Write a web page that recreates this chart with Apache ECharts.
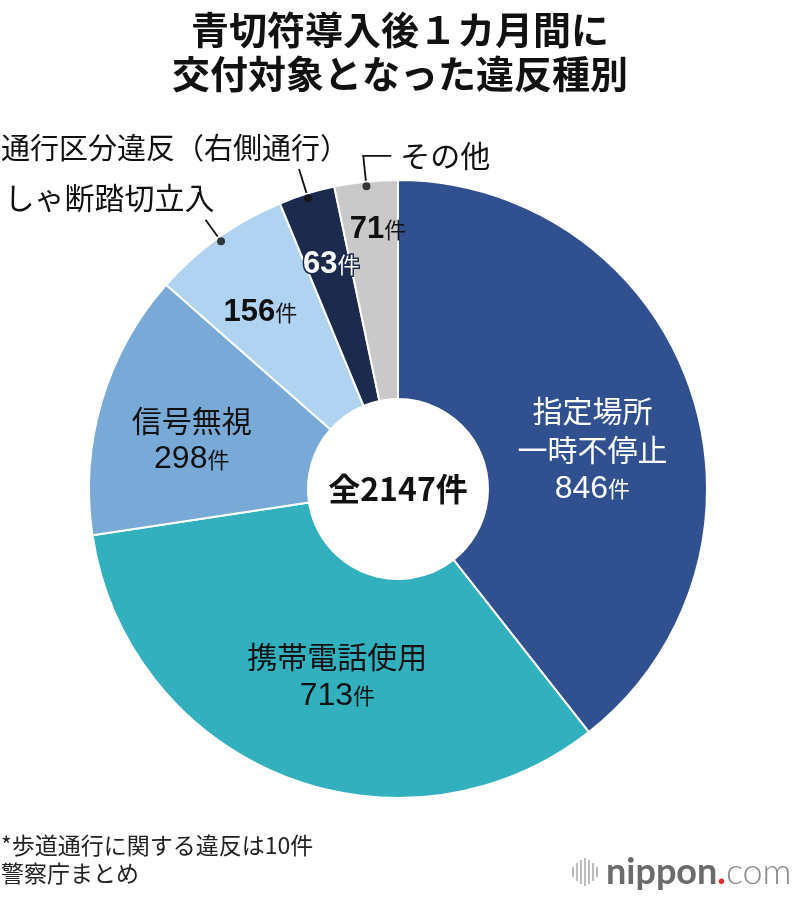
<!DOCTYPE html>
<html>
<head>
<meta charset="utf-8">
<script src="https://cdn.jsdelivr.net/npm/echarts@6/dist/echarts.min.js"></script>
<style>
  html, body { margin: 0; padding: 0; background: #fff; }
  #chart { width: 800px; height: 898px; }
</style>
</head>
<body>
<div id="chart"></div>
<script>
// data (clockwise from 12 o'clock)
const categories = ['指定場所\n一時不停止', '携帯電話使用', '信号無視', 'しゃ断踏切立入', '通行区分違反（右側通行）', 'その他'];
const counts = [846, 713, 298, 156, 63, 71];
const sliceColors = ['#30508f', '#33b0be', '#79a9d7', '#b1d3f2', '#1c2a4d', '#c9c9c9'];
const labelColors = ['#fff', '#111', '#111', '#111', '#fff', '#111'];

const total = counts.reduce((a, b) => a + b, 0);
const CX = 398, CY = 489, R_IN = 90, R_OUT = 309;
const JP = "'Noto Sans CJK JP', sans-serif";
const NUM = "'Liberation Sans', Arial, sans-serif";

// mid angle of each slice (value units, for polar) and radians
const midVal = [];
let acc = 0;
counts.forEach(v => { midVal.push(acc + v / 2); acc += v; });
const midRad = midVal.map(v => v / total * Math.PI * 2);

// nudges for the inside labels
const labelShift = [[3, 27], [14, -1], [-12, 8], [-20, -12], [-7, -31], [1, -58]];
// which slices get an outside name label, and its size
const outside = [false, false, false, true, true, true];
const outsideSize = [30, 30, 30, 30, 29, 30];

const chart = echarts.init(document.getElementById('chart'));

function insideLabel(p) {
  const i = p.dataIndex;
  const n = counts[i];
  if (i === 4) return '{nw|' + n + '}{uw|件}';
  if (outside[i]) return '{nb|' + n + '}{ub|件}';
  const lines = categories[i].split('\n').map(s => '{name|' + s + '}').join('\n');
  return lines + '\n{num|' + n + '}{unit|件}';
}

function outsideLayout(p) {
  const i = p.dataIndex;
  const a = midRad[i];
  const ux = Math.sin(a), uy = -Math.cos(a);
  const p0 = [CX + (R_OUT - 4) * ux, CY + (R_OUT - 4) * uy];
  if (i === 3) {
    const p1 = [p0[0] + 26 * ux, p0[1] + 26 * uy];
    return { x: p1[0] + 9, y: p1[1] - 22, align: 'right', verticalAlign: 'middle', labelLinePoints: [p0, p1, p1] };
  }
  if (i === 4) {
    const p1 = [p0[0] + 30 * ux, p0[1] + 30 * uy];
    return { x: p1[0] + 50, y: p1[1] - 21, align: 'right', verticalAlign: 'middle', labelLinePoints: [p0, p1, p1] };
  }
  const p1 = [p0[0] + 30 * ux, p0[1] + 30 * uy];
  const p2 = [p1[0] + 28, p1[1]];
  return { x: p2[0] + 9, y: p2[1], align: 'left', verticalAlign: 'middle', labelLinePoints: [p0, p1, p2] };
}

const option = {
  animation: false,
  backgroundColor: '#fff',
  title: {
    text: '青切符導入後１カ月間に\n交付対象となった違反種別',
    left: 'center',
    top: 3,
    textStyle: { fontFamily: JP, fontSize: 38, fontWeight: 'bold', color: '#111', lineHeight: 44 }
  },
  polar: { center: [CX, CY], radius: R_OUT },
  angleAxis: { type: 'value', min: 0, max: total, startAngle: 90, show: false },
  radiusAxis: { type: 'value', min: 0, max: 1, show: false },
  series: [
    {
      type: 'pie',
      center: [CX, CY],
      radius: [R_IN, R_OUT],
      startAngle: 90,
      clockwise: true,
      avoidLabelOverlap: false,
      silent: true,
      itemStyle: { borderColor: '#fff', borderWidth: 2 },
      data: counts.map((v, i) => ({
        name: categories[i], value: v,
        itemStyle: { color: sliceColors[i] },
        label: { color: labelColors[i] }
      })),
      label: {
        show: true,
        position: 'inside',
        formatter: insideLabel,
        lineHeight: 39,
        rich: {
          name: { fontFamily: JP, fontSize: 30, lineHeight: 39 },
          num: { fontFamily: NUM, fontSize: 32, lineHeight: 39 },
          unit: { fontFamily: JP, fontSize: 22, lineHeight: 39 },
          nb: { fontFamily: NUM, fontSize: 31, fontWeight: 'bold' },
          ub: { fontFamily: JP, fontSize: 22 },
          nw: { fontFamily: NUM, fontSize: 31, fontWeight: 'bold', textBorderColor: '#1c2a4d', textBorderWidth: 3 },
          uw: { fontFamily: JP, fontSize: 22, textBorderColor: '#1c2a4d', textBorderWidth: 3 }
        }
      },
      labelLayout: function (p) {
        const s = labelShift[p.dataIndex];
        return { dx: s[0], dy: s[1] };
      },
      labelLine: { show: false }
    },
    {
      type: 'pie',
      center: [CX, CY],
      radius: [R_IN, R_OUT],
      startAngle: 90,
      clockwise: true,
      avoidLabelOverlap: false,
      silent: true,
      itemStyle: { color: 'rgba(0,0,0,0)', borderWidth: 0 },
      data: counts.map((v, i) => ({
        name: categories[i], value: v,
        label: { show: outside[i], fontSize: outsideSize[i] },
        labelLine: { show: outside[i] }
      })),
      label: {
        position: 'outside',
        formatter: '{b}',
        fontFamily: JP,
        color: '#111'
      },
      labelLine: { lineStyle: { color: '#111', width: 1.8 } },
      labelLayout: outsideLayout
    },
    {
      type: 'scatter',
      coordinateSystem: 'polar',
      silent: true,
      symbolSize: 8,
      itemStyle: { color: '#111' },
      data: midVal.map((v, i) => outside[i] ? [0.985, v] : null).filter(d => d)
    }
  ],
  graphic: [
    {
      type: 'text', x: CX, y: CY,
      style: { text: '全' + total + '件', font: "bold 32px 'Noto Sans CJK JP'", fill: '#111', align: 'center', verticalAlign: 'middle' }
    },
    {
      type: 'text', x: 1, y: 831,
      style: { text: '*歩道通行に関する違反は10件\n警察庁まとめ', font: "23px 'Noto Sans CJK JP'", lineHeight: 28, fill: '#222' }
    },
    {
      type: 'group', x: 572, y: 858,
      children: [
        [0, 9, 10], [4, 5, 18], [8, 2, 24], [12, 0, 28], [16, 2, 24], [20, 5, 18], [24, 9, 10]
      ].map(b => ({ type: 'rect', shape: { x: b[0], y: b[1], width: 2, height: b[2] }, style: { fill: '#bdbdbd' } }))
    },
    {
      type: 'text', x: 606, y: 872,
      style: {
        text: '{a|nippon}{r|.}{c|com}',
        verticalAlign: 'middle',
        rich: {
          a: { font: "bold 36px Lato", fill: '#6b6b6b' },
          r: { font: "bold 36px Lato", fill: '#e8262a' },
          c: { font: "300 36px Lato", fill: '#8a8a8a' }
        }
      }
    }
  ]
};

chart.setOption(option);
</script>
</body>
</html>
